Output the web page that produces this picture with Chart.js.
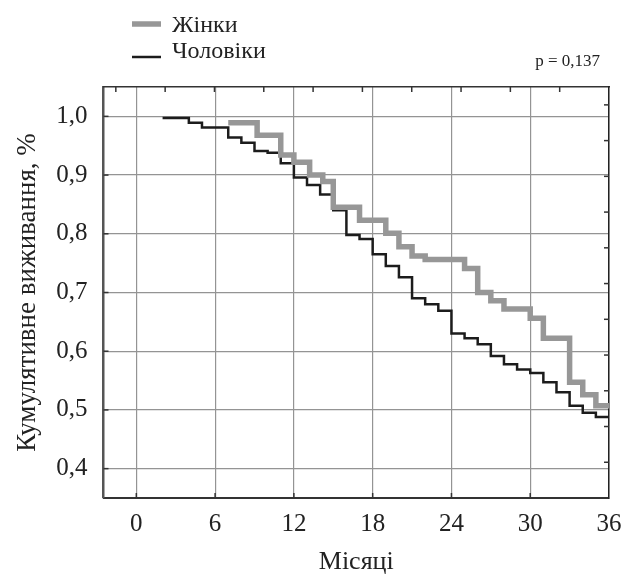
<!DOCTYPE html>
<html lang="uk">
<head>
<meta charset="UTF-8">
<title>Кумулятивне виживання</title>
<script src="https://cdn.jsdelivr.net/npm/chart.js"></script>
<style>
  html, body { margin: 0; padding: 0; background: #fff; }
</style>
</head>
<body>
<canvas id="kmChart" width="633" height="586"></canvas>
<script>
// Kaplan-Meier steps: month at which the value drops, and the new value
const womenMonths = [7, 9.2, 11, 12, 13.2, 14.2, 15, 17, 19, 20, 21, 22, 25, 26, 27, 28, 30, 31, 33, 34, 35, 36];
const womenSurv   = [0.989, 0.968, 0.934, 0.922, 0.900, 0.889, 0.845, 0.823, 0.801, 0.778, 0.762, 0.756,
                     0.741, 0.700, 0.686, 0.672, 0.656, 0.622, 0.547, 0.526, 0.507, 0.507];

const menMonths = [2, 4, 5, 7, 8, 9, 10, 11, 12, 13, 14, 15, 16, 17, 18, 19, 20, 21, 22, 23, 24,
                   25, 26, 27, 28, 29, 30, 31, 32, 33, 34, 35, 36];
const menSurv   = [0.997, 0.989, 0.981, 0.964, 0.955, 0.941, 0.938, 0.920, 0.896, 0.883, 0.867, 0.840,
                   0.798, 0.791, 0.765, 0.745, 0.726, 0.690, 0.680, 0.669, 0.630, 0.622, 0.612, 0.592,
                   0.578, 0.569, 0.563, 0.547, 0.530, 0.507, 0.495, 0.488, 0.488];

const xTicks = [0, 6, 12, 18, 24, 30, 36];
const yTicks = [0.4, 0.5, 0.6, 0.7, 0.8, 0.9, 1.0];
const pText = 'p = 0,137';

const SERIF = '"Liberation Serif", "DejaVu Serif", serif';
const INK = '#222';

const toPoints = (xs, ys) => xs.map((x, i) => ({ x: x, y: ys[i] }));

// small tick marks pointing into the plot, on all four sides
const innerTicks = {
  id: 'innerTicks',
  afterDraw(chart) {
    const ctx = chart.ctx, a = chart.chartArea;
    ctx.save();
    ctx.strokeStyle = '#333';
    ctx.lineWidth = 1.5;
    for (const s of Object.values(chart.scales)) {
      for (const t of s.ticks) {
        const p = s.getPixelForValue(t.value);
        ctx.beginPath();
        if (s.position === 'bottom') {
          if (p < a.left + 2 || p > a.right - 2) continue;
          ctx.moveTo(p, a.bottom); ctx.lineTo(p, a.bottom - 5);
        } else if (s.position === 'top') {
          if (p < a.left + 2 || p > a.right - 2) continue;
          ctx.moveTo(p, a.top); ctx.lineTo(p, a.top + 5);
        } else if (s.position === 'left') {
          if (p < a.top + 2 || p > a.bottom - 2) continue;
          ctx.moveTo(a.left, p); ctx.lineTo(a.left + 5, p);
        } else {
          if (p < a.top + 2 || p > a.bottom - 2) continue;
          ctx.moveTo(a.right, p); ctx.lineTo(a.right - 5, p);
        }
        ctx.stroke();
      }
    }
    ctx.restore();
  }
};

// legend block top-left and p-value on the right
const legendBlock = {
  id: 'legendBlock',
  afterDraw(chart) {
    const ctx = chart.ctx;
    ctx.save();
    const rows = [{ lineY: 24, textY: 32 }, { lineY: 57, textY: 58 }];
    chart.data.datasets.forEach((ds, i) => {
      const r = rows[i];
      ctx.strokeStyle = ds.borderColor;
      ctx.lineWidth = ds.borderWidth;
      ctx.beginPath();
      ctx.moveTo(132, r.lineY);
      ctx.lineTo(161, r.lineY);
      ctx.stroke();
      ctx.fillStyle = INK;
      ctx.font = '24px ' + SERIF;
      ctx.textAlign = 'left';
      ctx.textBaseline = 'alphabetic';
      ctx.fillText(ds.label, 172, r.textY);
    });
    ctx.font = '17px ' + SERIF;
    ctx.textAlign = 'right';
    ctx.fillText(pText, 600, 66);
    ctx.restore();
  }
};

new Chart(document.getElementById('kmChart'), {
  type: 'line',
  data: {
    datasets: [
      {
        label: 'Жінки',
        data: toPoints(womenMonths, womenSurv),
        borderColor: '#979797',
        borderWidth: 5.5,
        stepped: true,
        pointRadius: 0,
        fill: false,
        xAxisID: 'x',
        yAxisID: 'y'
      },
      {
        label: 'Чоловіки',
        data: toPoints(menMonths, menSurv),
        borderColor: '#1c1c1c',
        borderWidth: 2.5,
        stepped: true,
        pointRadius: 0,
        fill: false,
        xAxisID: 'x',
        yAxisID: 'y'
      }
    ]
  },
  options: {
    responsive: false,
    animation: false,
    devicePixelRatio: 1,
    layout: { padding: { left: 0, top: 87, right: 24, bottom: 0 } },
    plugins: {
      legend: { display: false },
      tooltip: { enabled: false }
    },
    scales: {
      x: {
        type: 'linear',
        position: 'bottom',
        min: -2.5,
        max: 36,
        afterBuildTicks: s => { s.ticks = xTicks.map(v => ({ value: v })); },
        afterFit: s => { s.height = 88; },
        ticks: {
          color: INK,
          padding: 11,
          maxRotation: 0,
          font: { family: SERIF, size: 25 }
        },
        grid: { color: '#949494', lineWidth: 1.2, drawTicks: false },
        border: { display: true, color: '#333', width: 2 },
        title: {
          display: true,
          text: 'Місяці',
          color: INK,
          font: { family: SERIF, size: 26 },
          padding: { top: 0, bottom: 8 }
        }
      },
      y: {
        type: 'linear',
        position: 'left',
        min: 0.35,
        max: 1.05,
        afterBuildTicks: s => { s.ticks = yTicks.map(v => ({ value: v })); },
        afterFit: s => { s.width = 103.5; },
        ticks: {
          color: INK,
          padding: 16,
          font: { family: SERIF, size: 25 },
          callback: v => v.toFixed(1).replace('.', ',')
        },
        grid: { color: '#949494', lineWidth: 1.2, drawTicks: false },
        border: { display: true, color: '#555', width: 2.5 },
        title: {
          display: true,
          text: 'Кумулятивне виживання, %',
          color: INK,
          font: { family: SERIF, size: 27 },
          padding: { top: 12, bottom: 0 }
        }
      },
      x2: {
        type: 'linear',
        position: 'top',
        min: -0.25,
        max: 10,
        afterFit: s => { s.height = 0; },
        ticks: { display: false, stepSize: 1, includeBounds: false },
        grid: { display: false, drawTicks: false },
        border: { display: true, color: '#333', width: 1.5 }
      },
      y2: {
        type: 'linear',
        position: 'right',
        min: 0,
        max: 11.5,
        afterFit: s => { s.width = 0; },
        ticks: { display: false, stepSize: 1, includeBounds: false },
        grid: { display: false, drawTicks: false },
        border: { display: true, color: '#222', width: 1.5 }
      }
    }
  },
  plugins: [innerTicks, legendBlock]
});
</script>
</body>
</html>
